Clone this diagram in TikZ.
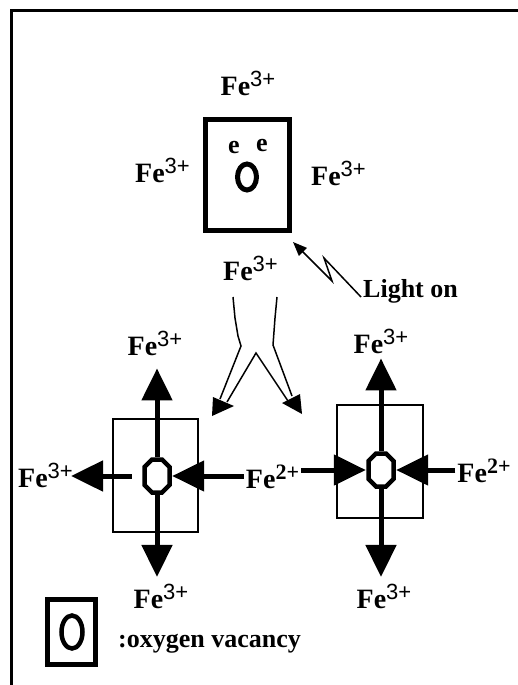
\documentclass[tikz,border=0pt]{standalone}
\usepackage{fontspec}
\setmainfont{Liberation Serif}
\newfontfamily\supfont{Liberation Sans}
\usetikzlibrary{arrows.meta,shapes.geometric}
\newcommand{\feiii}{Fe\raisebox{8.5pt}{\supfont\mdseries\fontsize{22}{22}\selectfont 3+}}
\newcommand{\feii}{Fe\raisebox{8.5pt}{\fontsize{22}{22}\selectfont 2+}}
\begin{document}
\begin{tikzpicture}[x=1pt, y=-1pt, every node/.style={font=\fontsize{28}{30}\selectfont\bfseries, inner sep=2pt},
  ion/.style={anchor=base},
  hole/.style={inner sep=0pt, minimum width=30pt, minimum height=38pt},
  bigarrow/.style={line width=5pt, -{Triangle[width=30pt,length=32pt]}},
  cell/.style={draw, line width=2pt, inner sep=0pt}]
\useasboundingbox (0,0) rectangle (518,685);
\draw[line width=3pt] (518,11) -- (11,11) -- (11,685);
% vacancy with two trapped electrons
\node[draw,line width=5pt,minimum width=84pt,minimum height=111pt,inner sep=0pt] (cell0) at (247.5,175) {};
\node[draw,ellipse,line width=5pt,minimum width=19pt,minimum height=26pt,inner sep=0pt] (vac0) at (247,177) {};
\node[ion,font=\fontsize{26}{28}\selectfont\bfseries] (e1) at (234,153) {e};
\node[ion,font=\fontsize{26}{28}\selectfont\bfseries] (e2) at (262,151) {e};
\node[ion] (fe0t) at (248,95) {\feiii};
\node[ion] (fe0l) at (162.5,182) {\feiii};
\node[ion] (fe0r) at (338.5,185) {\feiii};
\node[ion] (fe0b) at (250.5,280) {\feiii};
% light
\node[anchor=base west,font=\fontsize{26}{28}\selectfont\bfseries] (light) at (361,297) {Light on};
\coordinate (flash) at (293,242);
\draw[line width=1.5pt,-{Triangle[width=11pt,length=14pt]}] (light.base west) -- (324,258) -- (332,281) -- (flash);
% split arrow
\draw[line width=1.5pt] (233,297) -- (235,318) -- (238,336) -- (241,346) -- (220,399);
\draw[line width=1.5pt] (277,297) -- (275,318) -- (273,345) -- (292,396);
\draw[line width=1.5pt] (227,402) -- (256,353) -- (288,401);
\fill (212,416) -- (213,397) -- (234,406) -- cycle;
\fill (302,414) -- (300,394) -- (282,403) -- cycle;
% two cells after light
\node[cell,minimum width=85pt,minimum height=113pt] (cellL) at (155.5,475.5) {};
\node[cell,minimum width=86pt,minimum height=113pt] (cellR) at (380,461.5) {};
\node[hole] (vacL) at (157,476) {};
\node[hole] (vacR) at (381,470) {};
\foreach \v in {vacL,vacR} \draw[line width=4.5pt] (\v) +(-5,-16.5) -- +(5,-16.5) -- +(12.5,-9) -- +(12.5,9) -- +(5,16.5) -- +(-5,16.5) -- +(-12.5,9) -- +(-12.5,-9) -- cycle;
\node[ion] (feLt) at (155,355) {\feiii};
\node[ion] (feLl) at (45.5,487) {\feiii};
\node[ion] (feM) at (272.5,488) {\feii};
\node[ion] (feLb) at (161,608) {\feiii};
\node[ion] (feRt) at (381,353) {\feiii};
\node[ion] (feRr) at (484,482) {\feii};
\node[ion] (feRb) at (384,608) {\feiii};
\draw[bigarrow,shorten >=11pt] (vacL.north) -- (vacL.north |- feLt.south);
\draw[bigarrow,shorten >=5pt] (vacL.south) -- (vacL.south |- feLb.north);
\draw[bigarrow,shorten <=10pt,shorten >=-4pt] (vacL.west) -- (vacL.west -| feLl.east);
\draw[bigarrow] (feM.west |- vacL.east) -- (vacL.east);
\draw[bigarrow] (feM.east |- vacR.west) -- (vacR.west);
\draw[bigarrow] (feRr.west |- vacR.east) -- (vacR.east);
\draw[bigarrow,shorten >=3pt] (vacR.north) -- (vacR.north |- feRt.south);
\draw[bigarrow,shorten >=5pt] (vacR.south) -- (vacR.south |- feRb.north);
% key
\node[draw,line width=5pt,minimum width=48pt,minimum height=65pt,inner sep=0pt] (key) at (71.5,632) {};
\node[draw,ellipse,line width=4.5pt,minimum width=21pt,minimum height=33pt,inner sep=0pt] (vacK) at (72,632) {};
\node[anchor=base west,font=\fontsize{26}{28}\selectfont\bfseries] (keytext) at (116,647) {:oxygen vacancy};
\end{tikzpicture}
\end{document}
